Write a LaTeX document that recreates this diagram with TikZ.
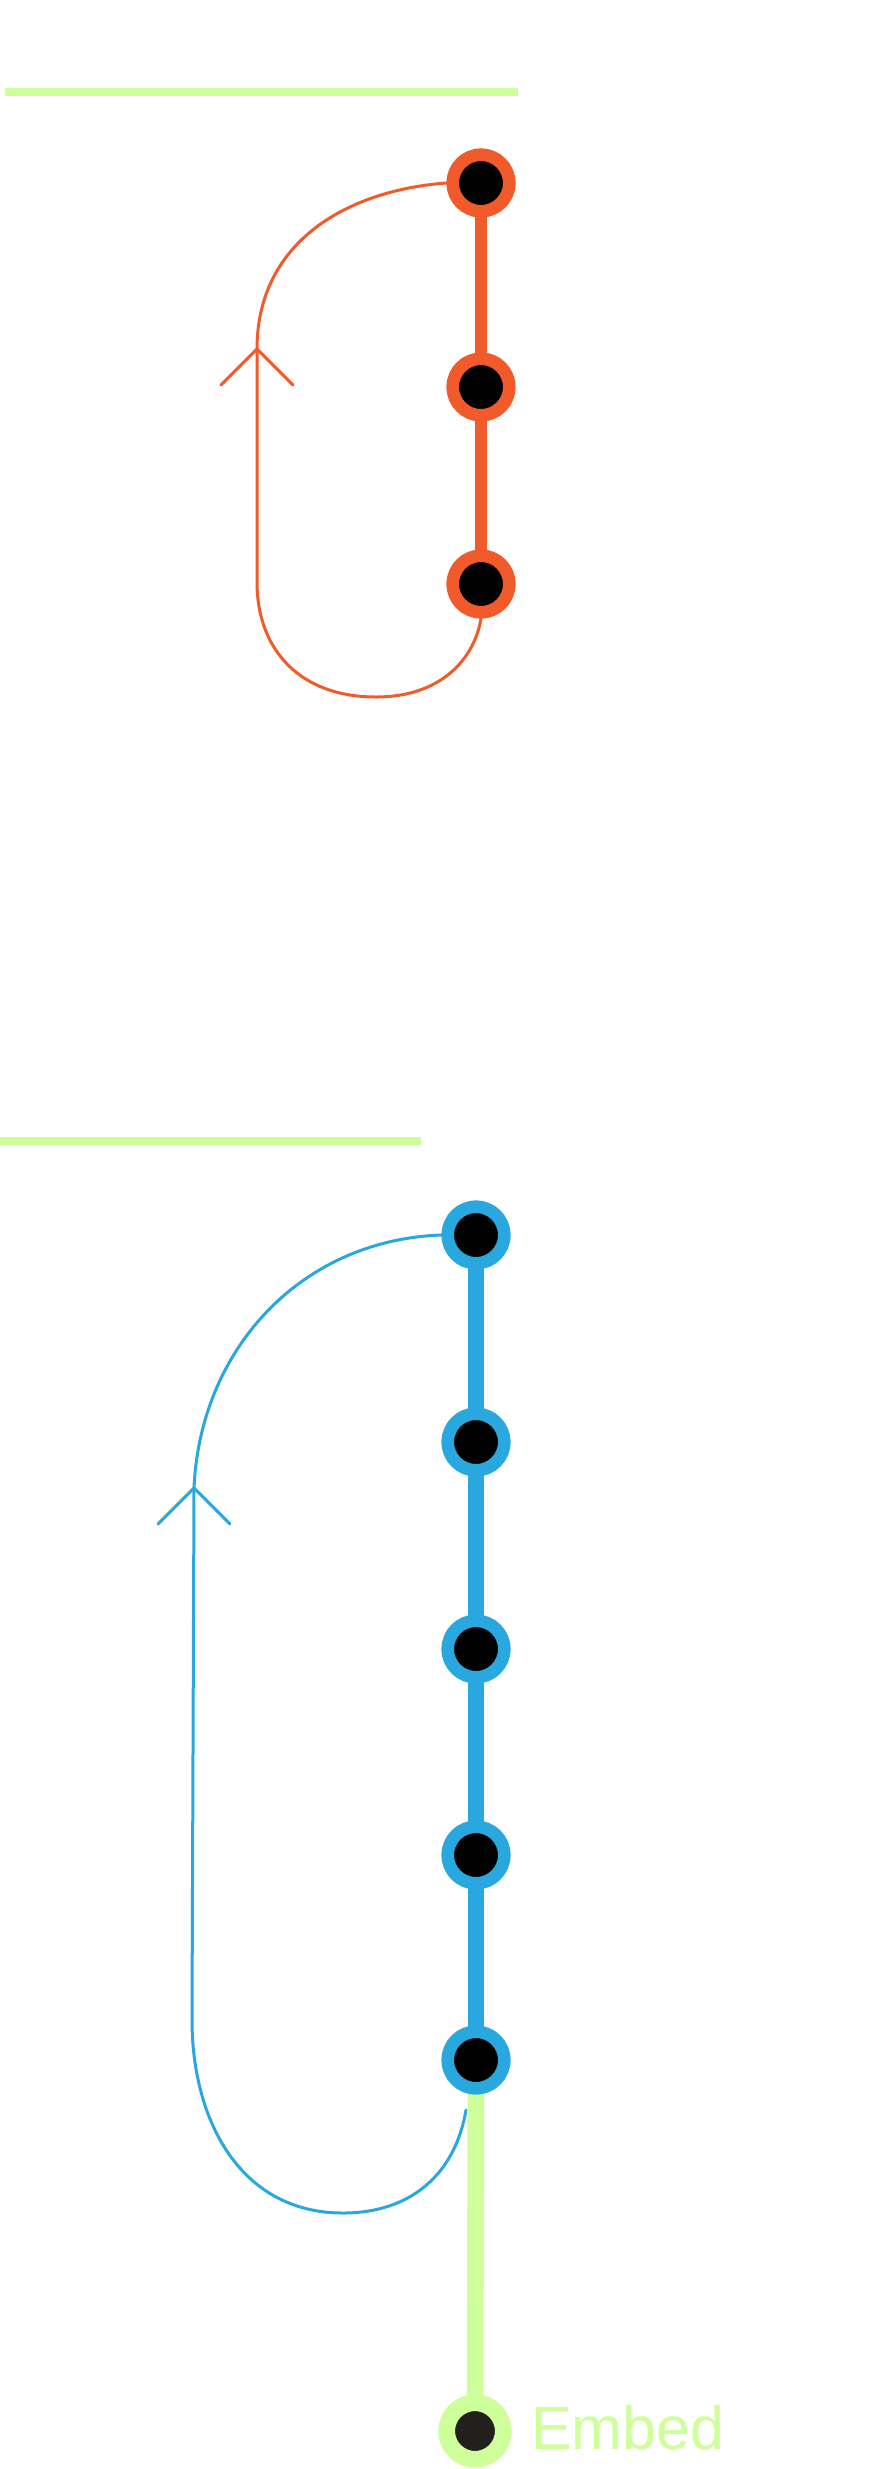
\documentclass[tikz,border=0pt]{standalone}
\usepackage{fontspec}
\newfontfamily\labelfont{Liberation Sans}
\usetikzlibrary{backgrounds}

\definecolor{lime}{HTML}{CFFF9A}
\definecolor{rust}{HTML}{F15A2B}
\definecolor{sky}{HTML}{29A8DF}
\definecolor{soot}{HTML}{231F1C}

\begin{document}
\begin{tikzpicture}[x=1pt, y=-1pt,
    stop/.style={circle, inner sep=0pt, minimum size=56.6pt, line width=12.6pt, fill=black},
    loop/.style={line width=3pt, line cap=round, line join=round}]
  \useasboundingbox (0,0) rectangle (874,2469);
  % Upper line: three stops.
  \node[stop, draw=rust] (r1) at (481,183) {};
  \node[stop, draw=rust] (r2) at (481,387) {};
  \node[stop, draw=rust] (r3) at (481,584) {};
  % Lower line: five stops and the terminus.
  \foreach \i/\y in {1/1235, 2/1442, 3/1649, 4/1855, 5/2060}
    \node[stop, draw=sky] (b\i) at (476,\y) {};
  \node[stop, draw=lime, fill=soot, line width=16.7pt] (embed) at (475,2431) {};
  \node[anchor=base west, text=lime, inner sep=0pt, font=\labelfont\fontsize{61}{73}\selectfont]
    (embedlabel) at (531,2449) {Embed};
  \begin{scope}[on background layer]
    \fill[white] (0,0) rectangle (874,2469);
    % Section rules.
    \draw[lime, line width=8pt] (5,92) -- (518,92);
    \draw[lime, line width=8pt] (0,1141) -- (421,1141);
    % Orange loop back.
    \coordinate (rtip) at (257,349);
    \draw[rust, loop] (r3.south) .. controls (474,660) and (440,697) .. (376,697)
      .. controls (300,697) and (257,650) .. (257,582) -- (rtip)
      .. controls (257,240) and (350,190) .. (r1.west);
    \draw[rust, loop] (rtip) ++(-36,36) -- (rtip) -- ++(36,36);
    % Blue loop back.
    \coordinate (btip) at (194,1488);
    \draw[sky, loop] (466,2110) .. controls (455,2175) and (410,2213) .. (343,2213)
      .. controls (240,2213) and (192,2120) .. (192,2020) -- (btip)
      .. controls (200,1350) and (300,1240) .. (b1.west);
    \draw[sky, loop] (btip) ++(-36,36) -- (btip) -- ++(36,36);
    % Track segments.
    \draw[rust, line width=12pt] (r1.center) -- (r3.center);
    \draw[sky, line width=16.5pt] (b1.center) -- (b5.center);
    \draw[lime, line width=16.7pt] (b5.center) -- (embed.center);
  \end{scope}
\end{tikzpicture}
\end{document}
